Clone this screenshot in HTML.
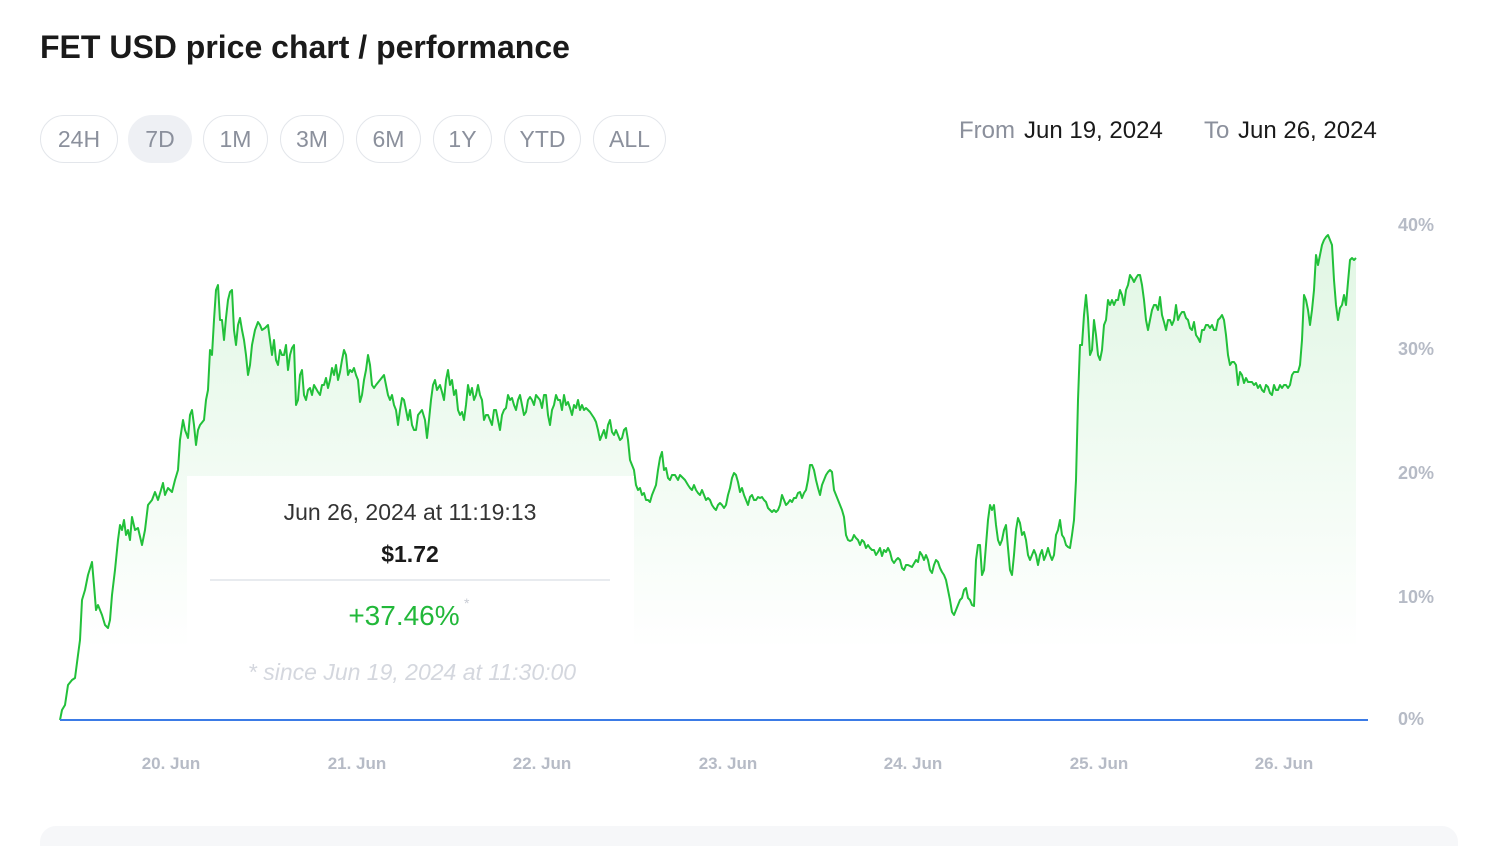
<!DOCTYPE html>
<html><head><meta charset="utf-8"><style>
body{margin:0;width:1488px;height:846px;background:#fff;font-family:"Liberation Sans",sans-serif;position:relative;overflow:hidden}
.t{position:absolute;left:40px;top:29px;font-size:32px;font-weight:bold;color:#1a1a1a}
.b{position:absolute;top:115px;height:48px;border:1px solid #e3e6eb;border-radius:25px;font-size:23px;color:#8b909c;display:flex;align-items:center;justify-content:center;box-sizing:border-box}
.ft{position:absolute;top:117px;font-size:24px}
</style></head><body>
<div class="t">FET USD price chart / performance</div>
<div class="b" style="left:40px;width:78px">24H</div>
<div class="b" style="left:128px;width:64px;background:#eef0f4;border-color:#eef0f4">7D</div>
<div class="b" style="left:203px;width:65px">1M</div>
<div class="b" style="left:280px;width:64px">3M</div>
<div class="b" style="left:356px;width:65px">6M</div>
<div class="b" style="left:433px;width:59px">1Y</div>
<div class="b" style="left:504px;width:77px">YTD</div>
<div class="b" style="left:593px;width:73px">ALL</div>
<div class="ft" style="left:959px;color:#8b909c">From</div>
<div class="ft" style="left:1024px;color:#1a1a1a">Jun 19, 2024</div>
<div class="ft" style="left:1204px;color:#8b909c">To</div>
<div class="ft" style="left:1238px;color:#1a1a1a">Jun 26, 2024</div>
<svg width="1488" height="846" style="position:absolute;left:0;top:0">
<defs><linearGradient id="g" gradientUnits="userSpaceOnUse" x1="0" y1="230" x2="0" y2="650"><stop offset="0" stop-color="#22c03a" stop-opacity="0.14"/><stop offset="1" stop-color="#22c03a" stop-opacity="0"/></linearGradient></defs>
<g id="ln"></g>
<line x1="60" y1="720" x2="1368" y2="720" stroke="#3b7be6" stroke-width="2"/>
<g font-size="18" font-weight="bold" fill="#b6bbc6">
<text x="1398" y="231">40%</text><text x="1398" y="355">30%</text><text x="1398" y="479">20%</text><text x="1398" y="603">10%</text><text x="1398" y="725">0%</text>
</g>
<g font-size="17" font-weight="bold" fill="#b6bbc6" text-anchor="middle">
<text x="171" y="769">20. Jun</text><text x="357" y="769">21. Jun</text><text x="542" y="769">22. Jun</text><text x="728" y="769">23. Jun</text><text x="913" y="769">24. Jun</text><text x="1099" y="769">25. Jun</text><text x="1284" y="769">26. Jun</text>
</g>
<rect x="187" y="476" width="447" height="175" fill="#fff"/>
<text x="410" y="520" font-size="23" fill="#333" text-anchor="middle">Jun 26, 2024 at 11:19:13</text>
<text x="410" y="562" font-size="23" font-weight="bold" fill="#1a1a1a" text-anchor="middle">$1.72</text>
<line x1="210" y1="580" x2="610" y2="580" stroke="#e8ebef" stroke-width="2"/>
<text x="404" y="625" font-size="28" fill="#22b83a" text-anchor="middle">+37.46%</text>
<text x="464" y="608" font-size="14" fill="#c8ccd4">*</text>
<text x="412" y="680" font-size="23" font-style="italic" fill="#d4d7de" text-anchor="middle">* since Jun 19, 2024 at 11:30:00</text>
<rect x="40" y="826" width="1418" height="40" rx="16" fill="#f6f7f9"/>
</svg>
<script>
var p="60,720 62,710 65,705 68,685 72,680 75,678 78,655 80,640 82,600 85,590 88,575 92,562 94,585 96,610 98,605 102,615 105,625 108,628 110,620 112,595 115,570 118,540 120,525 122,530 124,520 126,535 128,530 130,540 132,517 135,530 138,528 142,545 145,530 148,505 152,500 155,492 158,500 161,490 163,483 165,495 168,488 172,492 175,480 178,470 180,440 183,420 185,430 188,438 190,415 192,410 194,425 196,445 198,430 200,425 204,420 206,400 208,390 210,350 212,355 214,320 216,290 218,285 220,320 222,320 224,340 226,318 228,300 230,292 232,290 234,330 236,345 238,325 240,318 242,330 244,340 246,355 248,375 250,365 252,345 255,330 258,322 260,325 262,330 265,328 268,325 270,340 272,355 274,340 276,360 278,365 280,350 282,355 284,355 286,345 288,370 290,355 292,348 294,345 296,405 298,400 300,375 302,370 304,395 306,400 308,390 310,388 312,395 314,385 318,392 320,395 322,385 324,385 326,378 328,388 330,380 332,368 334,375 336,365 338,380 340,372 342,360 344,350 346,355 348,375 350,370 352,372 354,368 356,375 358,380 360,402 362,395 364,380 366,370 368,355 370,365 372,385 374,388 376,385 380,380 384,375 386,385 388,395 390,400 392,395 394,405 396,410 398,425 400,410 402,398 404,400 406,410 408,420 410,410 412,425 414,430 416,430 418,415 422,410 425,420 427,438 429,420 431,400 433,385 435,380 437,390 440,385 442,392 444,400 446,380 448,370 450,385 452,380 454,395 456,390 458,410 460,415 462,412 464,420 466,405 468,385 470,395 472,388 474,400 476,395 478,385 480,395 482,400 484,420 486,415 488,415 490,420 492,425 494,410 496,410 498,420 500,430 502,415 504,410 506,408 508,395 510,400 512,398 514,405 516,410 518,400 520,395 522,405 524,415 526,412 528,400 530,397 532,400 534,405 536,395 540,400 542,408 544,395 546,395 548,415 550,425 552,410 554,405 556,395 558,400 560,400 562,410 564,395 566,405 568,402 570,408 572,415 574,405 576,408 578,400 580,410 582,405 584,410 586,408 590,412 594,418 596,422 598,430 600,440 602,435 604,430 606,438 608,425 610,420 612,432 614,435 616,430 618,435 620,440 622,438 624,430 626,428 628,440 630,460 634,470 636,485 638,490 640,488 642,495 644,493 646,500 648,500 650,502 652,495 654,490 656,485 658,470 660,458 662,452 664,470 666,468 668,478 670,480 672,475 675,475 678,480 680,475 685,480 688,485 690,488 692,490 694,485 696,490 698,493 700,495 702,490 704,495 706,500 708,498 710,500 712,505 714,508 716,510 718,505 720,503 722,505 724,508 726,505 728,495 730,488 732,478 734,473 736,475 738,482 740,492 742,488 744,495 746,500 748,505 750,497 752,495 754,500 756,500 758,497 760,498 762,497 764,500 766,502 768,508 770,510 772,512 774,510 776,512 778,510 780,505 782,495 784,500 786,505 788,503 790,500 792,502 794,498 796,498 798,493 800,492 802,498 804,493 806,490 808,480 810,465 812,465 814,470 816,480 818,488 820,495 822,485 824,480 826,475 828,472 830,470 832,472 834,490 836,495 838,500 840,505 842,510 844,517 846,535 848,540 850,541 852,540 854,535 856,538 858,540 860,545 862,540 864,542 866,548 868,545 870,548 872,550 874,550 876,555 878,552 880,548 882,556 884,550 886,552 888,548 890,552 892,560 894,563 896,560 898,558 900,560 902,568 904,570 906,565 908,565 912,567 916,560 918,562 920,552 922,555 924,560 926,555 928,560 930,570 932,573 934,565 936,560 938,562 940,568 942,572 944,575 946,580 948,590 950,600 952,612 954,615 956,610 958,605 960,600 962,598 964,590 966,588 968,598 970,600 972,605 974,606 976,560 978,545 980,545 982,575 984,570 986,545 988,520 990,505 992,510 994,505 996,525 998,540 1000,545 1002,540 1004,530 1006,525 1008,548 1010,570 1012,575 1014,555 1016,530 1018,518 1020,523 1022,535 1024,532 1026,540 1028,555 1030,560 1032,555 1034,550 1036,555 1038,565 1040,555 1042,550 1044,560 1046,555 1048,548 1050,555 1052,560 1054,555 1056,535 1058,530 1060,520 1062,535 1064,538 1066,545 1068,547 1070,548 1072,535 1074,520 1076,480 1078,400 1080,345 1082,345 1084,315 1086,295 1088,318 1090,355 1092,350 1094,320 1096,335 1098,355 1100,360 1102,350 1104,325 1106,320 1108,300 1110,305 1112,300 1114,305 1116,300 1118,300 1120,290 1122,295 1124,305 1126,290 1128,285 1130,275 1132,278 1134,282 1136,278 1138,275 1140,275 1142,285 1144,300 1146,320 1148,330 1150,320 1152,310 1154,305 1156,305 1158,310 1160,297 1162,315 1164,322 1166,330 1168,320 1170,320 1172,325 1174,320 1176,305 1178,320 1180,315 1182,312 1184,312 1186,318 1188,320 1190,328 1192,330 1194,322 1196,335 1198,338 1200,342 1202,330 1204,330 1206,325 1208,325 1210,328 1212,325 1214,330 1216,330 1218,320 1220,318 1222,315 1224,320 1226,335 1228,355 1230,365 1232,362 1234,362 1236,365 1238,385 1240,372 1242,375 1244,383 1246,378 1248,382 1250,382 1252,382 1254,385 1256,383 1258,388 1260,385 1262,390 1264,392 1266,385 1268,387 1270,393 1272,395 1274,385 1276,390 1278,390 1280,385 1282,388 1284,385 1286,385 1288,388 1290,385 1292,375 1294,372 1296,372 1298,372 1300,365 1302,340 1304,295 1306,300 1308,310 1310,325 1312,310 1314,290 1316,255 1318,265 1320,255 1322,245 1324,240 1326,237 1328,235 1330,240 1332,245 1334,280 1336,305 1338,320 1340,308 1342,305 1344,295 1346,305 1348,282 1350,260 1352,258 1354,260 1356,258";
var g=document.getElementById("ln");
g.innerHTML='<polygon points="'+p+' 1356,720 60,720" fill="url(#g)"/><polyline points="'+p+'" fill="none" stroke="#22c03a" stroke-width="2" stroke-linejoin="round"/>';
</script>
</body></html>
